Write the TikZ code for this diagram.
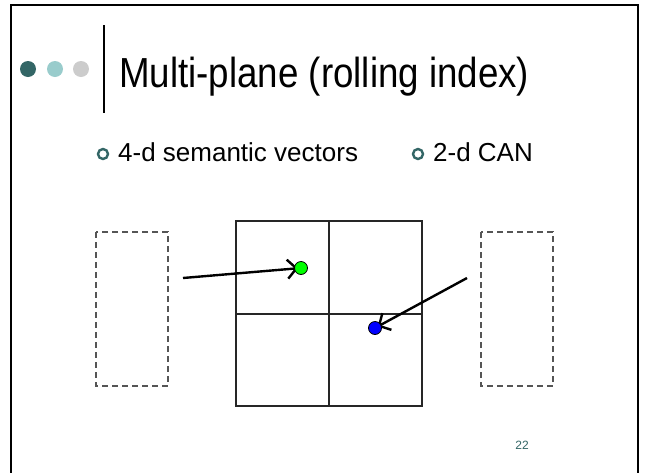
\documentclass[tikz,border=0pt]{standalone}
\usepackage{fontspec}
\usepackage{graphicx}
\setmainfont{Liberation Sans}
\usetikzlibrary{arrows.meta}
\pgfdeclarelayer{fg}
\pgfsetlayers{main,fg}
\definecolor{darkteal}{HTML}{336666}
\definecolor{lightteal}{HTML}{99CCCC}
\definecolor{lightgrey}{HTML}{CCCCCC}
\definecolor{dashgrey}{HTML}{555555}
\tikzset{
  dot/.style={circle, inner sep=0pt, minimum size=16pt},
  ring/.style={circle, draw=darkteal, line width=2.4pt, inner sep=0pt, minimum size=10pt},
  bullettext/.style={anchor=base west, inner sep=0pt, font=\fontsize{26}{30}\selectfont},
  dashbox/.style={draw=dashgrey, dashed, line width=1.2pt, dash pattern=on 6pt off 4pt},
  cell/.style={draw=black!85, line width=1.1pt},
  pt/.style={circle, draw=black, line width=0.8pt, inner sep=0pt, minimum size=13pt},
  link/.style={line width=2.4pt, -{Straight Barb[length=9pt,width=19pt,line width=2.4pt]}, shorten >=-4pt}
}
\begin{document}
\begin{tikzpicture}[x=1pt,y=-1pt]
\useasboundingbox (0,0) rectangle (645,472);
\fill[white] (0,0) rectangle (645,472);
% frame
\draw[line width=2.4pt] (10.7,480) -- (10.7,5) -- (638,5) -- (638,480);
% header dots and bar
\node[dot, fill=darkteal] (d1) at (28,69) {};
\node[dot, fill=lightteal] (d2) at (55,69) {};
\node[dot, fill=lightgrey] (d3) at (81,69) {};
\draw[line width=2pt] (104,25) -- (104,113);
\node[anchor=base west, inner sep=0pt, font=\fontsize{42}{46}\selectfont] (title) at (119,87) {\scalebox{0.874}[1]{Multi-plane (rolling index)}};
% bullets
\node[ring] (b1) at (103,154) {};
\node[bullettext] (t1) at (118,161) {4-d semantic vectors};
\node[ring] (b2) at (418,154) {};
\node[bullettext] (t2) at (433,161) {2-d CAN};
% dashed boxes
\draw[dashbox] (96,232) rectangle (168,386);
\draw[dashbox] (481,232) rectangle (553,386);
% grid
\draw[cell] (236,221) rectangle (422,406);
\draw[cell] (329,221) -- (329,406);
\draw[cell] (236,314) -- (422,314);
% points (on top of arrow tips)
\begin{pgfonlayer}{fg}
\node[pt, fill=green] (g) at (301,268) {};
\node[pt, fill=blue] (bl) at (375,328) {};
\end{pgfonlayer}
\coordinate (s1) at (183,278);
\coordinate (s2) at (467,278);
\draw[link] (s1) -- (g);
\draw[link] (s2) -- (bl);
% page number
\node[font=\fontsize{12}{13}\selectfont, text=darkteal] (pg) at (522,445) {22};
\end{tikzpicture}
\end{document}
